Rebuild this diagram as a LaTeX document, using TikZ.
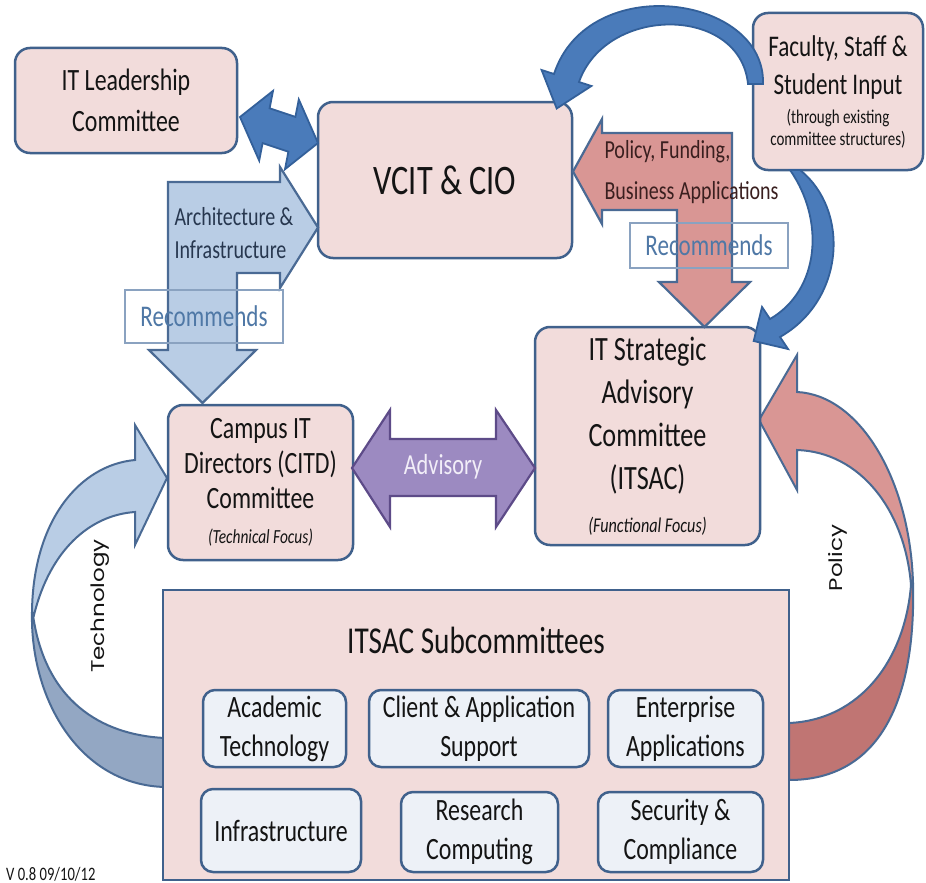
\documentclass[tikz,border=0pt]{standalone}
\usepackage{fontspec}
\usepackage{graphicx}
\setmainfont[FakeStretch=0.77]{Carlito}
\newfontfamily\rotfont{Poppins}

\definecolor{ink}{HTML}{141414}
\definecolor{boxfill}{HTML}{F2DCDB}
\definecolor{boxline}{HTML}{40618C}
\definecolor{subfill}{HTML}{EDF1F7}
\definecolor{deepblue}{HTML}{4A7BBA}
\definecolor{deepblueline}{HTML}{33609A}
\definecolor{paleblue}{HTML}{B9CDE5}
\definecolor{shadeblue}{HTML}{93A7C3}
\definecolor{salmon}{HTML}{D99694}
\definecolor{shadesalmon}{HTML}{C07573}
\definecolor{arrowline}{HTML}{4A6A94}
\definecolor{violet}{HTML}{9C8AC1}
\definecolor{violetline}{HTML}{5D4B88}
\definecolor{advtext}{HTML}{F2EEF8}
\definecolor{recline}{HTML}{8AA2C0}
\definecolor{rectext}{HTML}{4F78A6}
\definecolor{archtext}{HTML}{27374F}
\definecolor{poltext}{HTML}{3A1F1F}

\begin{document}
\begin{tikzpicture}[x=1pt,y=-1pt,
  box/.style={draw=boxline, line width=2.5pt, fill=boxfill, rounded corners=15pt,
    align=center, inner sep=0pt, text=ink},
  subbox/.style={draw=boxline, line width=2.5pt, fill=subfill, rounded corners=12pt,
    align=center, inner sep=0pt, text=ink, font=\fontsize{31}{39}\selectfont},
  recbox/.style={draw=recline, line width=1.3pt, text=rectext,
    font=\fontsize{30}{36}\selectfont, inner sep=0pt},
  paleshape/.style={fill=paleblue, draw=arrowline, line width=2.2pt, line join=miter},
  darkshape/.style={fill=deepblue, draw=deepblueline, line width=1.8pt, line join=miter},
  redshape/.style={fill=salmon, draw=arrowline, line width=2.2pt, line join=miter},
  sidelabel/.style={rotate=90, font=\rotfont\fontsize{23}{28}\selectfont, text=ink}]

\fill[white] (0,0) rectangle (926,883);
\useasboundingbox (0,0) rectangle (926,883);

% Technology loop (left)
\draw[fill=shadeblue, draw=arrowline, line width=2pt, line join=round]
  (32,612) .. controls (30,700) and (80,785) .. (165,787) -- (165,738)
  .. controls (100,735) and (45,700) .. (33,615) -- cycle;
\draw[paleshape, line width=2pt]
  (32,612) .. controls (33,520) and (80,465) .. (135,460) -- (135,425) -- (167,478)
  -- (135,545) -- (135,512) .. controls (90,515) and (50,550) .. (34,615) -- cycle;

% Policy loop (right)
\draw[fill=shadesalmon, draw=arrowline, line width=2pt, line join=round]
  (913,583) .. controls (916,700) and (880,780) .. (789,780) -- (789,723)
  .. controls (860,720) and (905,660) .. (911,585) -- cycle;
\draw[redshape, line width=2pt]
  (913,583) .. controls (910,480) and (860,395) .. (797,392) -- (797,355) -- (759,420)
  -- (797,490) -- (797,450) .. controls (860,452) and (905,510) .. (911,585) -- cycle;

% Committees
\node[box, minimum width=222pt, minimum height=105pt, font=\fontsize{31}{41}\selectfont]
  (lead) at (126,100.5) {IT Leadership\\Committee};
\node[box, minimum width=254pt, minimum height=156pt, font=\fontsize{42}{50}\selectfont]
  (vcit) at (445,180) {VCIT \& CIO};
\node[box, minimum width=170pt, minimum height=157pt, font=\fontsize{30}{38}\selectfont]
  (input) at (838,91.5) {Faculty, Staff \&\\Student Input\\[-9pt]{\fontsize{19.5}{22}\selectfont (through existing}\\[-16pt]{\fontsize{19.5}{22}\selectfont committee structures)}};
\node[box, minimum width=185pt, minimum height=155pt, font=\fontsize{31}{35}\selectfont]
  (citd) at (260.5,482.5) {Campus IT\\Directors (CITD)\\Committee\\{\fontsize{20}{24}\selectfont\itshape (Technical Focus)}};
\node[box, minimum width=225pt, minimum height=218pt, font=\fontsize{34}{43}\selectfont]
  (itsac) at (647.5,436) {IT Strategic\\Advisory\\Committee\\(ITSAC)\\{\fontsize{21}{25}\selectfont\itshape (Functional Focus)}};

% Subcommittees panel
\node[draw=boxline, line width=2.5pt, fill=boxfill, minimum width=626pt, minimum height=290pt]
  (subs) at (476,735) {};
\node[font=\fontsize{38}{44}\selectfont, text=ink] (substitle) at (476,640) {ITSAC Subcommittees};
\node[subbox, minimum width=143pt, minimum height=77pt] (acad) at (274.5,728.5) {Academic\\Technology};
\node[subbox, minimum width=220pt, minimum height=77pt] (client) at (479,728.5) {Client \& Application\\Support};
\node[subbox, minimum width=155pt, minimum height=77pt] (enter) at (685.5,728.5) {Enterprise\\Applications};
\node[subbox, minimum width=160pt, minimum height=83pt] (infra) at (281,830.5) {Infrastructure};
\node[subbox, minimum width=157pt, minimum height=80pt] (research) at (479.5,832) {Research\\Computing};
\node[subbox, minimum width=165pt, minimum height=80pt] (secur) at (680.5,832) {Security \&\\Compliance};

% Loop labels
\node[sidelabel] (techlbl) at (100,606) {\scalebox{1}[0.8]{Technology}};
\node[sidelabel] (pollbl) at (838,558) {\scalebox{1}[0.8]{Policy}};

% Leadership <-> VCIT
\draw[darkshape] (240,117) -- (273,90.9) -- (269.6,108.3) -- (295.4,116.9) -- (298.8,99.5)
  -- (318,143) -- (285,169.2) -- (288.4,151.7) -- (262.6,143.1) -- (259.2,160.6) -- cycle;

% Input loops
\draw[darkshape] (763,84) .. controls (766,-5) and (588,-30) .. (554,74) -- (541.6,70)
  -- (556.7,108.5) -- (591.4,86) -- (579,82) .. controls (606,5) and (740,5) .. (748,84) -- cycle;
\draw[darkshape] (800,170) .. controls (850,210) and (845,300) .. (780,337) -- (788,349)
  -- (753.7,341) -- (762,307) -- (770,319) .. controls (820,290) and (825,220) .. (790,170) -- cycle;

% Architecture & Infrastructure bent arrow
\draw[paleshape] (168,182) -- (280,182) -- (280,167) -- (318,227.5) -- (280,288) -- (280,273)
  -- (237,273) -- (237,350) -- (256,350) -- (202.5,403) -- (149,350) -- (168,350) -- cycle;

% Policy, Funding bent arrow
\draw[redshape] (732,133) -- (732,282) -- (750,282) -- (704.5,327) -- (659,282) -- (677,282)
  -- (677,210) -- (602,210) -- (602,224) -- (573,171.5) -- (602,119) -- (602,133) -- cycle;

% Advisory double arrow
\draw[fill=violet, draw=violetline, line width=2.2pt, line join=miter]
  (352,468) -- (390,410) -- (390,439) -- (496,439) -- (496,410) -- (535,468) -- (496,527)
  -- (496,496) -- (390,496) -- (390,527) -- cycle;
\node[font=\fontsize{29}{34}\selectfont, text=advtext] (advlbl) at (443,467) {Advisory};

% Recommends tags
\node[recbox, minimum width=158pt, minimum height=53pt] (recL) at (204,316.5) {Recommends};
\node[recbox, minimum width=158pt, minimum height=45pt] (recR) at (709,245.5) {Recommends};

% Arrow captions
\node[anchor=west, align=left, font=\fontsize{26}{33}\selectfont, text=archtext]
  (archlbl) at (171,233.5) {Architecture \&\\Infrastructure};
\node[anchor=west, align=left, font=\fontsize{26}{41}\selectfont, text=poltext]
  (fundlbl) at (601,172.5) {Policy, Funding,\\Business Applications};

% Version stamp
\node[anchor=base west, font=\fontsize{19}{23}\selectfont, text=ink, inner sep=0pt]
  (ver) at (6,880) {V 0.8 09/10/12};
\end{tikzpicture}
\end{document}
